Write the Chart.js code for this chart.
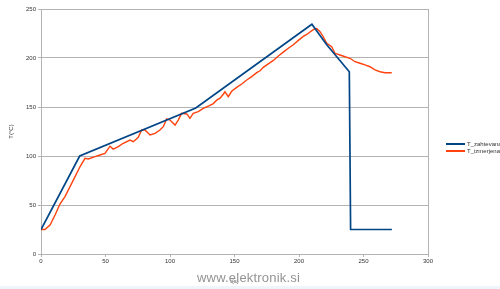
<!DOCTYPE html>
<html>
<head>
<meta charset="utf-8">
<script src="https://cdn.jsdelivr.net/npm/chart.js@4"></script>
<style>
  html, body { margin: 0; padding: 0; background: #fff; }
  #wrap { position: relative; width: 500px; height: 289px; overflow: hidden; }
  #legend { position: absolute; left: 446px; top: 141px; font: 6px "Liberation Sans", sans-serif; color: #333; }
  #legend div { height: 7px; line-height: 7px; white-space: nowrap; }
  #legend span { display: inline-block; width: 19px; height: 2px; vertical-align: middle; margin-right: 2px; }
  #mark { position: absolute; left: 197px; top: 270px; font: 13px "Liberation Sans", sans-serif; color: #939393;
          text-shadow: 0 0 2px #fff, 0 0 1px #fff; letter-spacing: 0.2px; }
  #band { position: absolute; left: 0; top: 286px; width: 500px; height: 3px; background: #eef5fb; }
</style>
</head>
<body>
<div id="wrap">
  <canvas id="chart" width="500" height="289"></canvas>
  <div id="legend">
    <div><span style="background:#004586"></span>T_zahtevana</div>
    <div><span style="background:#ff420e"></span>T_izmerjena</div>
  </div>
  <div id="mark">www.elektronik.si</div>
  <div id="band"></div>
</div>
<script>
// required (set) temperature
const timeRequired = [0, 30, 120, 210, 221.5, 239, 240, 272];
const tempRequired = [25, 100, 149, 234.5, 213.5, 186, 25, 25];

// measured temperature
const timeMeasured = [0, 3, 7, 10.9, 14.7, 18.6, 22.5, 26.4, 30.2, 34.1, 36.7, 41.9, 45.7, 49.6, 53.5, 56, 59.9, 63.8,
  69, 71.6, 75.4, 78, 80.6, 84.5, 88.4, 92.2, 94.8, 97.4, 100, 103.9, 106.4, 109, 113, 115.5, 118, 121.9,
  125.8, 129.7, 133.6, 136.2, 138.8, 141.3, 142.6, 145.2, 147.8, 151.7, 155.6, 159.5, 163.3, 167.2, 169.8,
  172.3, 176.2, 180.1, 184, 187.8, 191.7, 195.6, 199.5, 203.3, 206, 208.5, 211.1, 213.7, 216.3, 218.8,
  221.5, 225.3, 227.9, 231.8, 235.7, 239.5, 243.4, 247.3, 251.2, 255, 258.9, 262.8, 266.7, 271.9];
const tempMeasured = [25, 25, 29.6, 39.8, 51, 58.5, 68.7, 78.9, 89, 97.6, 97, 99.3, 101, 102.7, 110, 107, 109.5, 113,
  116.3, 114.6, 119, 126.5, 126.5, 121.4, 123.1, 126.5, 129.9, 137.8, 136.7, 131.6, 136.7, 143.5, 142.9, 138.4, 143.5, 145.2,
  148.5, 151, 153.5, 157, 159, 163, 165.5, 160.5, 166, 170, 173.5, 177.5, 181, 185, 187,
  190.5, 194, 197.5, 202, 206, 210, 213.5, 218, 222, 224, 226.5, 229, 230, 226.8, 221.7,
  215, 211.5, 204.8, 203.1, 201.3, 199.7, 196.2, 194.6, 192.9, 191.1, 187.8, 186, 185, 185];

const xTicks = [0, 50, 100, 150, 200, 250, 300];
const yTicks = [0, 50, 100, 150, 200, 250];

const pairs = (xs, ys) => xs.map((x, i) => ({ x, y: ys[i] }));
const gridGray = '#b3b3b3';
const tickFont = { family: 'Liberation Sans', size: 6 };

new Chart(document.getElementById('chart'), {
  type: 'line',
  data: {
    datasets: [
      { label: 'T_zahtevana', data: pairs(timeRequired, tempRequired), borderColor: '#004586', borderWidth: 1.7, pointRadius: 0, tension: 0 },
      { label: 'T_izmerjena', data: pairs(timeMeasured, tempMeasured), borderColor: '#ff420e', borderWidth: 1.4, pointRadius: 0, tension: 0 },
    ],
  },
  options: {
    responsive: false,
    animation: false,
    layout: { padding: { left: 0, right: 72, top: 9, bottom: 0 } },
    plugins: { legend: { display: false }, tooltip: { enabled: false } },
    scales: {
      x: {
        type: 'linear', min: 0, max: 300,
        afterBuildTicks: s => { s.ticks = xTicks.map(v => ({ value: v })); },
        afterFit: s => { s.height = 35; },
        grid: {
          color: c => (c.tick && c.tick.value === 300 ? gridGray : 'transparent'),
          tickColor: gridGray, tickLength: 3, drawOnChartArea: true,
        },
        border: { color: gridGray, width: 1 },
        ticks: { color: '#333', font: tickFont, padding: 1, maxRotation: 0 },
        title: { display: true, text: 't(s)', color: '#333', font: { family: 'Liberation Sans', size: 6 }, padding: { top: 3 } },
      },
      y: {
        min: 0, max: 250,
        afterBuildTicks: s => { s.ticks = yTicks.map(v => ({ value: v })); },
        afterFit: s => { s.width = 41; },
        grid: { color: gridGray, tickColor: gridGray, tickLength: 3 },
        border: { color: gridGray, width: 1 },
        ticks: { color: '#333', font: tickFont, padding: 2 },
        title: { display: true, text: 'T(°C)', color: '#333', font: { family: 'Liberation Sans', size: 6 }, padding: { top: 8, bottom: 0 } },
      },
    },
  },
});
</script>
</body>
</html>
